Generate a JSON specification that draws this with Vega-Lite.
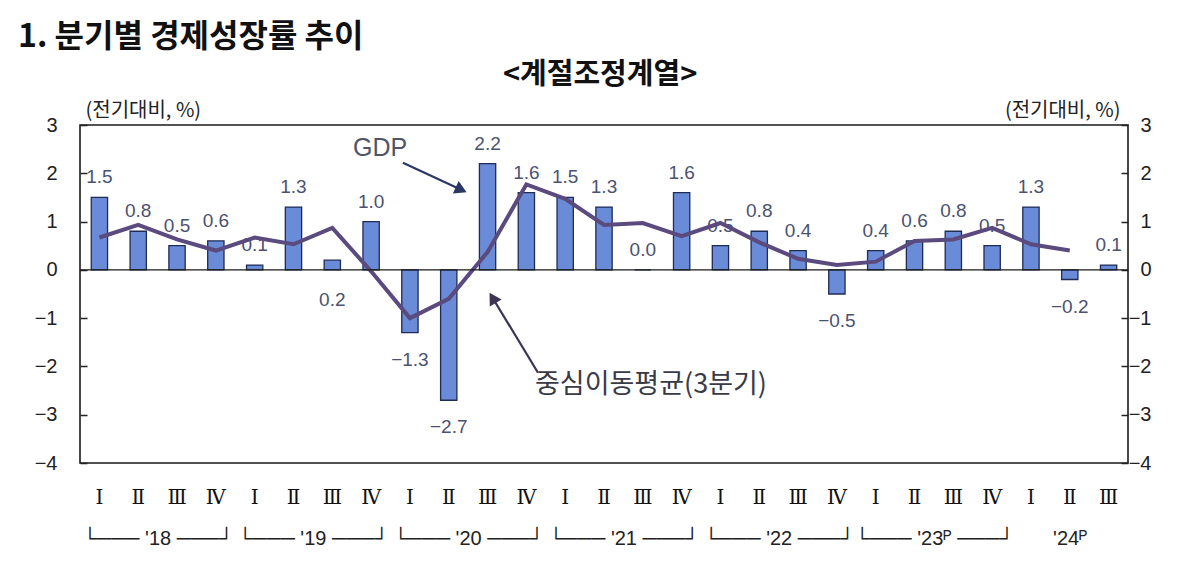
{
  "$schema": "https://vega.github.io/schema/vega-lite/v6.json",
  "width": 1048,
  "height": 338,
  "autosize": {"type": "none"},
  "padding": {"left": 80, "top": 125, "right": 72, "bottom": 102},
  "background": "white",
  "view": {"stroke": "#1a1a1a", "strokeWidth": 1.6},
  "title": {
    "text": "1. 분기별 경제성장률 추이",
    "anchor": "start",
    "frame": "group",
    "dx": -62,
    "offset": -25,
    "baseline": "bottom",
    "font": "Noto Sans CJK KR",
    "fontSize": 32,
    "fontWeight": "bold",
    "color": "#111111"
  },
  "datasets": {
    "gdp": [
      {"q": "18-1", "roman": "Ⅰ", "value": 1.5, "ma": 0.67},
      {"q": "18-2", "roman": "Ⅱ", "value": 0.8, "ma": 0.93},
      {"q": "18-3", "roman": "Ⅲ", "value": 0.5, "ma": 0.63},
      {"q": "18-4", "roman": "Ⅳ", "value": 0.6, "ma": 0.4},
      {"q": "19-1", "roman": "Ⅰ", "value": 0.1, "ma": 0.67},
      {"q": "19-2", "roman": "Ⅱ", "value": 1.3, "ma": 0.53},
      {"q": "19-3", "roman": "Ⅲ", "value": 0.2, "ma": 0.87},
      {"q": "19-4", "roman": "Ⅳ", "value": 1.0, "ma": -0.03},
      {"q": "20-1", "roman": "Ⅰ", "value": -1.3, "ma": -1.0},
      {"q": "20-2", "roman": "Ⅱ", "value": -2.7, "ma": -0.6},
      {"q": "20-3", "roman": "Ⅲ", "value": 2.2, "ma": 0.37},
      {"q": "20-4", "roman": "Ⅳ", "value": 1.6, "ma": 1.77},
      {"q": "21-1", "roman": "Ⅰ", "value": 1.5, "ma": 1.47},
      {"q": "21-2", "roman": "Ⅱ", "value": 1.3, "ma": 0.93},
      {"q": "21-3", "roman": "Ⅲ", "value": 0.0, "ma": 0.97},
      {"q": "21-4", "roman": "Ⅳ", "value": 1.6, "ma": 0.7},
      {"q": "22-1", "roman": "Ⅰ", "value": 0.5, "ma": 0.97},
      {"q": "22-2", "roman": "Ⅱ", "value": 0.8, "ma": 0.57},
      {"q": "22-3", "roman": "Ⅲ", "value": 0.4, "ma": 0.23},
      {"q": "22-4", "roman": "Ⅳ", "value": -0.5, "ma": 0.1},
      {"q": "23-1", "roman": "Ⅰ", "value": 0.4, "ma": 0.17},
      {"q": "23-2", "roman": "Ⅱ", "value": 0.6, "ma": 0.6},
      {"q": "23-3", "roman": "Ⅲ", "value": 0.8, "ma": 0.63},
      {"q": "23-4", "roman": "Ⅳ", "value": 0.5, "ma": 0.87},
      {"q": "24-1", "roman": "Ⅰ", "value": 1.3, "ma": 0.53},
      {"q": "24-2", "roman": "Ⅱ", "value": -0.2, "ma": 0.4},
      {"q": "24-3", "roman": "Ⅲ", "value": 0.1, "ma": null}
    ]
  },
  "layer": [
    {
      "data": {"name": "gdp"},
      "layer": [
        {
          "mark": {"type": "bar", "fill": "#6A8CD8", "stroke": "#1F2A55", "strokeWidth": 1.3},
          "encoding": {
            "x": {
              "field": "q", "type": "nominal",
              "scale": {"paddingInner": 0.58, "paddingOuter": 0.29},
              "axis": null
            },
            "y": {
              "field": "value", "type": "quantitative",
              "scale": {"domain": [-4, 3], "nice": false, "zero": false},
              "axis": {
                "orient": "left", "values": [-4, -3, -2, -1, 0, 1, 2, 3], "format": "d",
                "title": "(전기대비, %)", "titleAngle": 0, "titleAlign": "left", "titleBaseline": "bottom",
                "titleX": 5, "titleY": -5, "titleFont": "Noto Sans CJK KR", "titleFontSize": 20,
                "titleFontWeight": "normal", "titleColor": "#222222",
                "labelFont": "Liberation Sans", "labelFontSize": 20, "labelColor": "#222222",
                "labelAlign": "right", "labelBaseline": "middle",
                "labelPadding": 30, "tickSize": -7, "tickColor": "#222222", "tickWidth": 1.5,
                "domain": false, "grid": false
              }
            }
          }
        },
        {
          "mark": {"type": "text", "baseline": "middle", "dy": 35, "font": "DejaVu Serif", "fontSize": 20, "color": "#111111"},
          "encoding": {
            "x": {"field": "q", "type": "nominal", "axis": null},
            "y": {"datum": -4, "type": "quantitative", "axis": null},
            "text": {"field": "roman", "type": "nominal"}
          }
        },
        {
          "transform": [{"filter": "datum.value >= 0 && datum.q != '19-3'"}],
          "mark": {"type": "text", "baseline": "middle", "dy": -20, "font": "Liberation Sans", "fontSize": 19, "color": "#4B5270"},
          "encoding": {
            "x": {"field": "q", "type": "nominal", "axis": null},
            "y": {"field": "value", "type": "quantitative", "axis": null},
            "text": {"field": "value", "type": "quantitative", "format": ".1f"}
          }
        },
        {
          "transform": [{"filter": "datum.value < 0"}],
          "mark": {"type": "text", "baseline": "middle", "dy": 27, "font": "Liberation Sans", "fontSize": 19, "color": "#4B5270"},
          "encoding": {
            "x": {"field": "q", "type": "nominal", "axis": null},
            "y": {"field": "value", "type": "quantitative", "axis": null},
            "text": {"field": "value", "type": "quantitative", "format": ".1f"}
          }
        },
        {
          "transform": [{"filter": "datum.q == '19-3'"}],
          "mark": {"type": "text", "baseline": "middle", "dy": 40, "font": "Liberation Sans", "fontSize": 19, "color": "#4B5270"},
          "encoding": {
            "x": {"field": "q", "type": "nominal", "axis": null},
            "y": {"field": "value", "type": "quantitative", "axis": null},
            "text": {"field": "value", "type": "quantitative", "format": ".1f"}
          }
        },
        {
          "mark": {"type": "line", "color": "#5A4A7E", "strokeWidth": 4, "strokeJoin": "miter"},
          "encoding": {
            "x": {"field": "q", "type": "nominal", "bandPosition": 0.5, "axis": null},
            "y": {
              "field": "ma", "type": "quantitative",
              "scale": {"domain": [-4, 3], "nice": false, "zero": false},
              "axis": {
                "orient": "right", "values": [-4, -3, -2, -1, 0, 1, 2, 3], "format": "d",
                "title": "(전기대비, %)", "titleAngle": 0, "titleAlign": "right", "titleBaseline": "bottom",
                "titleX": -8, "titleY": -5, "titleFont": "Noto Sans CJK KR", "titleFontSize": 20,
                "titleFontWeight": "normal", "titleColor": "#222222",
                "labelFont": "Liberation Sans", "labelFontSize": 20, "labelColor": "#222222",
                "labelAlign": "right", "labelBaseline": "middle",
                "labelPadding": 30, "tickSize": -7, "tickColor": "#222222", "tickWidth": 1.5,
                "domain": false, "grid": false
              }
            }
          }
        }
      ],
      "resolve": {"axis": {"y": "independent"}}
    },
    {
      "data": {"values": [{}]},
      "layer": [
        {
          "mark": {"type": "rule", "color": "#2B3866", "strokeWidth": 2.2},
          "encoding": {
            "x": {
              "datum": 8.32, "type": "quantitative",
              "scale": {"domain": [0, 27], "nice": false, "zero": false},
              "axis": {
                "orient": "bottom", "values": [2, 6, 10, 14, 18, 22, 25.5], "title": null,
                "labelExpr": "datum.value < 4 ? \"└───  '18  ───┘\" : datum.value < 8 ? \"└───  '19  ───┘\" : datum.value < 12 ? \"└───  '20  ───┘\" : datum.value < 16 ? \"└───  '21  ───┘\" : datum.value < 20 ? \"└───  '22  ───┘\" : datum.value < 24 ? \"└───  '23ᴾ  ───┘\" : \"'24ᴾ\"",
                "labelFont": "Liberation Sans", "labelFontSize": 20, "labelColor": "#222222",
                "labelPadding": 0, "labelFlush": false, "labelOverlap": false,
                "offset": 65, "ticks": false, "domain": false, "grid": false
              }
            },
            "y": {"datum": 2.22, "type": "quantitative", "axis": null},
            "x2": {"datum": 9.82},
            "y2": {"datum": 1.66}
          }
        },
        {
          "mark": {"type": "point", "shape": "triangle-right", "filled": true, "opacity": 1, "size": 190, "angle": 24.8, "color": "#2B3866"},
          "encoding": {
            "x": {"datum": 9.82, "type": "quantitative"},
            "y": {"datum": 1.66, "type": "quantitative", "axis": null}
          }
        },
        {
          "mark": {"type": "rule", "color": "#3D3553", "strokeWidth": 2.2},
          "encoding": {
            "x": {"datum": 11.8, "type": "quantitative"},
            "y": {"datum": -2.13, "type": "quantitative", "axis": null},
            "x2": {"datum": 10.63},
            "y2": {"datum": -0.58}
          }
        },
        {
          "mark": {"type": "point", "shape": "triangle-right", "filled": true, "opacity": 1, "size": 190, "angle": 238.8, "color": "#3D3553"},
          "encoding": {
            "x": {"datum": 10.63, "type": "quantitative"},
            "y": {"datum": -0.58, "type": "quantitative", "axis": null}
          }
        },
        {
          "mark": {"type": "rule", "color": "#1a1a1a", "strokeWidth": 1.3},
          "encoding": {
            "y": {"datum": 0, "type": "quantitative", "axis": null}
          }
        },
        {
          "mark": {"type": "text", "text": "GDP", "font": "Liberation Sans", "fontSize": 25, "color": "#505468", "baseline": "middle"},
          "encoding": {
            "x": {"datum": 7.73, "type": "quantitative"},
            "y": {"datum": 2.53, "type": "quantitative", "axis": null}
          }
        },
        {
          "mark": {"type": "text", "text": "중심이동평균(3분기)", "font": "Noto Sans CJK KR", "fontSize": 27, "color": "#3A3A46", "baseline": "middle"},
          "encoding": {
            "x": {"datum": 14.71, "type": "quantitative"},
            "y": {"datum": -2.38, "type": "quantitative", "axis": null}
          }
        },
        {
          "mark": {"type": "text", "text": "<계절조정계열>", "font": "Noto Sans CJK KR", "fontSize": 29, "fontWeight": "bold", "color": "#111111", "baseline": "middle"},
          "encoding": {
            "x": {"datum": 13.4, "type": "quantitative"},
            "y": {"datum": 4.04, "type": "quantitative", "axis": null}
          }
        }
      ]
    }
  ],
  "resolve": {"scale": {"x": "independent"}}
}
